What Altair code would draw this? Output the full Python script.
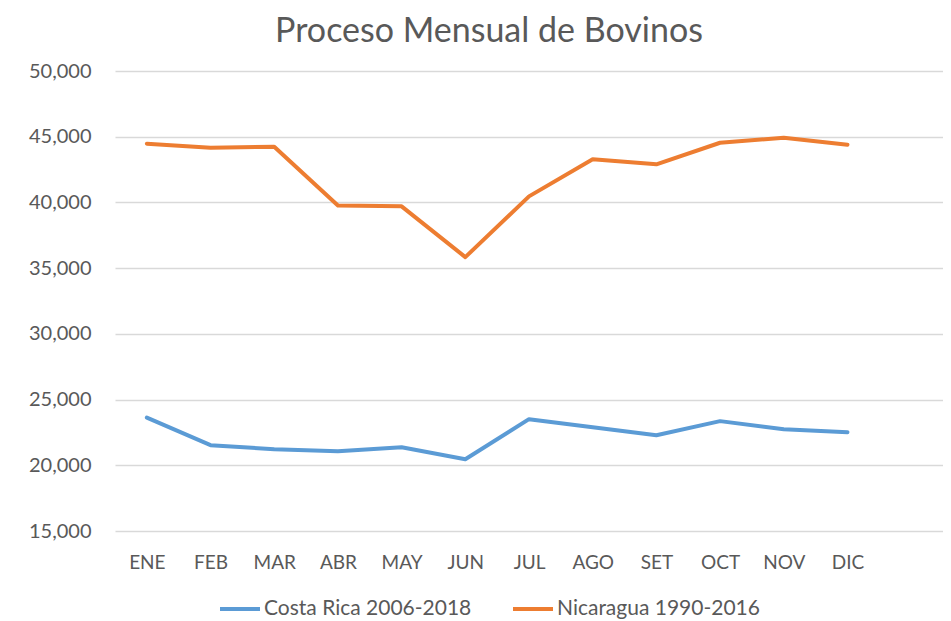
import altair as alt
import pandas as pd

months = ["ENE", "FEB", "MAR", "ABR", "MAY", "JUN", "JUL", "AGO", "SET", "OCT", "NOV", "DIC"]
costa_rica = [23630, 21530, 21220, 21070, 21370, 20460, 23510, 22900, 22290, 23360, 22750, 22520]
nicaragua = [44470, 44160, 44240, 39770, 39700, 35840, 40460, 43280, 42900, 44540, 44920, 44390]
series_names = ["Costa Rica 2006-2018", "Nicaragua 1990-2016"]
colors = ["#5B9BD5", "#ED7D31"]
y_ticks = [15000, 20000, 25000, 30000, 35000, 40000, 45000, 50000]

rows = []
for m, v in zip(months, costa_rica):
    rows.append({"mes": m, "valor": v, "serie": series_names[0]})
for m, v in zip(months, nicaragua):
    rows.append({"mes": m, "valor": v, "serie": series_names[1]})
df = pd.DataFrame(rows)

font = "Lato"
grey = "#595959"

chart = alt.Chart(df).mark_line(strokeWidth=4, strokeCap="round", strokeJoin="round").encode(
    x=alt.X("mes:N", sort=months,
            scale=alt.Scale(domain=months + [" "], type="point", padding=0.5),
            axis=alt.Axis(title=None, labelAngle=0, ticks=False, domain=False, grid=False,
                          labelFontSize=19, labelColor=grey, labelFont=font, labelPadding=22)),
    y=alt.Y("valor:Q",
            scale=alt.Scale(domain=[15000, 50000], zero=False, nice=False),
            axis=alt.Axis(title=None, values=y_ticks, format=",.0f", ticks=False, domain=False,
                          gridColor="#D9D9D9", gridWidth=1.3,
                          labelFontSize=20, labelColor=grey, labelFont=font, labelPadding=24)),
    color=alt.Color("serie:N", scale=alt.Scale(domain=series_names, range=colors),
                    legend=alt.Legend(title=None, orient="none", direction="horizontal",
                                      legendX=103, legendY=516, padding=0,
                                      symbolType="stroke", symbolSize=1600, symbolStrokeWidth=4,
                                      labelFontSize=21, labelColor=grey, labelFont=font,
                                      labelLimit=400, columnPadding=33, labelOffset=2)),
).properties(
    width=828, height=460,
    title=alt.TitleParams("Proceso Mensual de Bovinos", fontSize=34, font=font, color=grey,
                          fontWeight="normal", anchor="middle", dx=-40, offset=12),
    padding={"left": 20, "top": 7, "right": 0, "bottom": 0},
).configure_view(stroke=None)

chart.save("out.html", embed_options={"renderer": "svg", "actions": False})
